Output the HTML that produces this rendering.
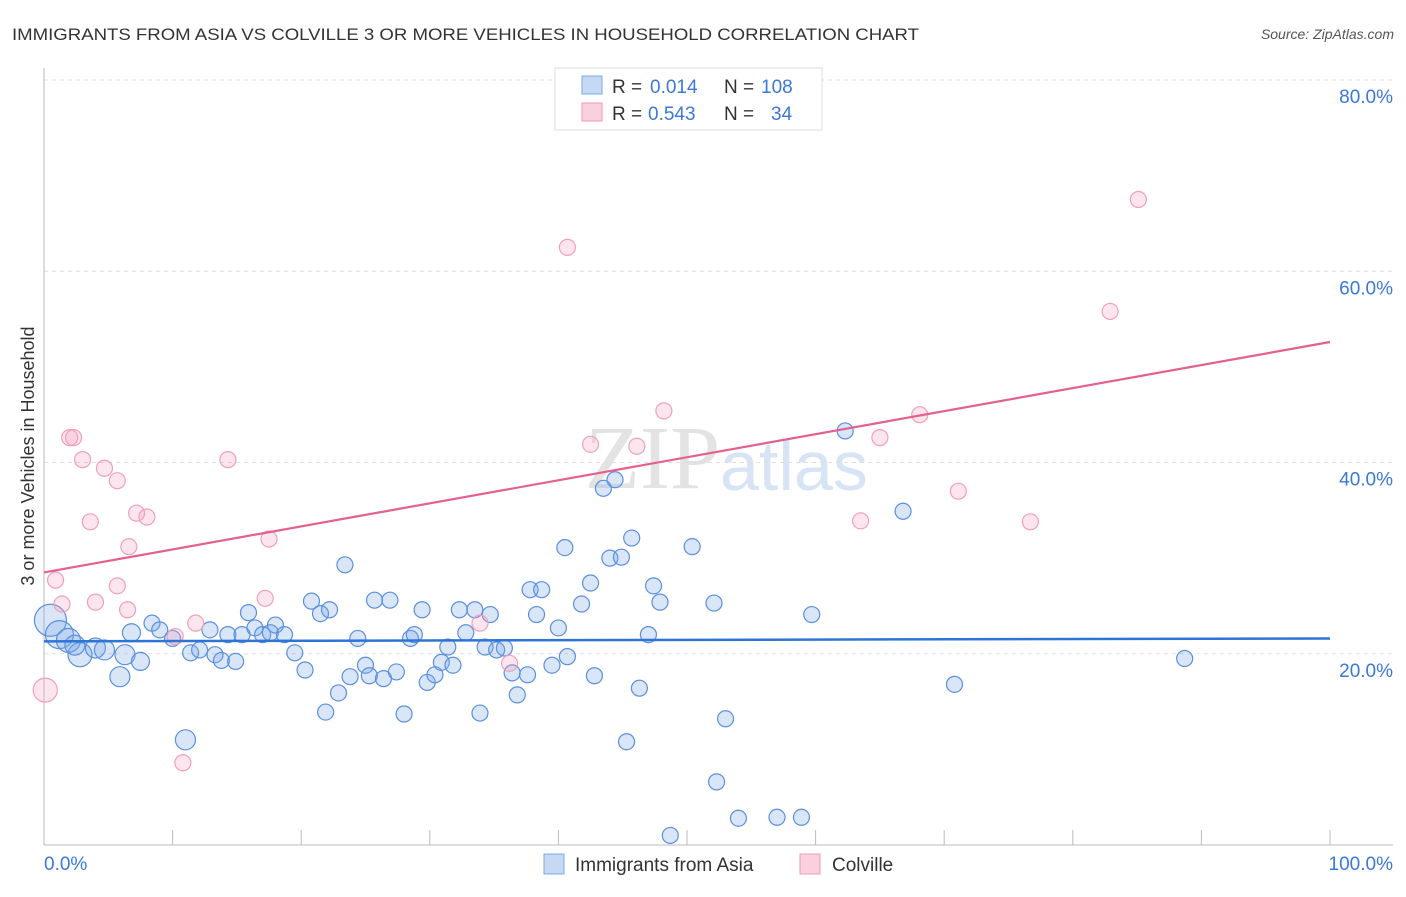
<!DOCTYPE html>
<html><head><meta charset="utf-8"><style>
body{margin:0;background:#fff;font-family:"Liberation Sans",sans-serif;}
</style></head><body>
<svg width="1406" height="892" xmlns="http://www.w3.org/2000/svg" style="font-family:'Liberation Sans',sans-serif">
<text x="12" y="40" font-size="17" fill="#333" textLength="907" lengthAdjust="spacingAndGlyphs">IMMIGRANTS FROM ASIA VS COLVILLE 3 OR MORE VEHICLES IN HOUSEHOLD CORRELATION CHART</text>
<text x="1394" y="39" font-size="14" fill="#555" text-anchor="end" font-style="italic">Source: ZipAtlas.com</text>
<text x="720" y="488" font-size="90" fill="#e3e3e3" text-anchor="end" font-family="Liberation Serif">ZIP</text>
<text x="720" y="490" font-size="70" fill="#d6e4f5">atlas</text>
<g id="grid"></g><g id="axes"></g><g id="pts"></g><g id="lines"></g>
<text transform="translate(34,456) rotate(-90)" font-size="18" fill="#333" text-anchor="middle">3 or more Vehicles in Household</text>
<g>
<rect x="555" y="68" width="267" height="62" fill="#fff" stroke="#ddd"/>
<rect x="582" y="76" width="20" height="18" fill="#c5d9f5" stroke="#7aa7e6"/>
<rect x="582" y="103" width="20" height="18" fill="#fbd0de" stroke="#f09ab8"/>
<text x="612" y="93" font-size="19" fill="#333">R =</text>
<text x="650" y="93" font-size="19" fill="#3b78d8">0.014</text>
<text x="724" y="93" font-size="19" fill="#333">N =</text>
<text x="761" y="93" font-size="19" fill="#3b78d8">108</text>
<text x="612" y="120" font-size="19" fill="#333">R =</text>
<text x="648" y="120" font-size="19" fill="#3b78d8">0.543</text>
<text x="724" y="120" font-size="19" fill="#333">N =</text>
<text x="771" y="120" font-size="19" fill="#3b78d8">34</text>
</g>
<g>
<rect x="544" y="854" width="20" height="20" fill="#c5d9f5" stroke="#7aa7e6"/>
<text x="575" y="871" font-size="19" fill="#333">Immigrants from Asia</text>
<rect x="800" y="854" width="20" height="20" fill="#fbd0de" stroke="#f09ab8"/>
<text x="832" y="871" font-size="19" fill="#333">Colville</text>
</g>
</svg>
<script>
const yTicks=[20,40,60,80];
const xTickLabels=["0.0%","100.0%"];
const blueX=[0.5,1.2,1.9,2.8,2.4,4.0,4.7,5.9,6.3,7.5,6.8,8.4,9.0,10.0,11.0,11.4,12.1,12.9,13.3,13.8,14.9,14.3,15.4,15.9,16.4,17.0,17.6,18.0,18.7,19.5,20.3,20.8,21.5,22.2,23.4,21.9,22.9,23.8,24.4,25.0,25.3,25.7,26.4,26.9,27.4,28.0,28.5,28.8,29.4,29.8,30.4,30.9,31.4,31.8,32.3,32.8,33.5,33.9,34.3,34.7,35.2,35.8,36.4,36.8,37.6,37.8,38.3,38.7,39.5,40.0,40.5,40.7,41.8,42.5,42.8,43.5,44.0,44.4,44.9,45.3,45.7,46.3,47.0,47.4,47.9,48.7,50.4,52.1,52.3,53.0,54.0,57.0,58.9,59.7,62.3,66.8,70.8,88.7];
const blueY=[23.5,22.0,21.4,19.9,20.9,20.6,20.4,17.6,19.9,19.2,22.2,23.2,22.5,21.6,11.0,20.1,20.4,22.5,19.9,19.3,19.2,22.0,22.0,24.3,22.7,22.0,22.2,23.0,22.0,20.1,18.3,25.5,24.2,24.6,29.3,13.9,15.9,17.6,21.6,18.8,17.7,25.6,17.4,25.6,18.1,13.7,21.6,22.0,24.6,17.0,17.8,19.1,20.7,18.8,24.6,22.2,24.6,13.8,20.7,24.1,20.4,20.6,18.0,15.7,17.8,26.7,24.1,26.7,18.8,22.7,31.1,19.7,25.2,27.4,17.7,37.3,30.0,38.2,30.1,10.8,32.1,16.4,22.0,27.1,25.4,1.0,31.2,25.3,6.6,13.2,2.8,2.9,2.9,24.1,43.3,34.9,16.8,19.5];
const blueSize=[16,14,12,12,10,10,10,10,10,9,9,8,8,8,10];
const pinkX=[0.1,0.9,1.4,2.0,2.3,3.0,3.6,4.0,4.7,5.7,5.7,6.5,6.6,7.2,8.0,10.2,10.8,11.8,14.3,17.2,17.5,33.9,36.2,40.7,42.5,46.1,48.2,63.5,65.0,68.1,71.1,76.7,82.9,85.1];
const pinkY=[16.2,27.7,25.2,42.6,42.6,40.3,33.8,25.4,39.4,38.1,27.1,24.6,31.2,34.7,34.3,21.8,8.6,23.2,40.3,25.8,32.0,23.2,19.0,62.5,41.9,41.7,45.4,33.9,42.6,45.0,37.0,33.8,55.8,67.5];
const blueTrend=[21.3,21.6];
const pinkTrend=[28.5,52.6];
const NS="http://www.w3.org/2000/svg";
const X0=44,X1=1330,Y0=845,Ytop=80;
function sx(v){return X0+(X1-X0)*v/100;}
function sy(v){return Y0-(Y0-Ytop)*v/80;}
function mk(parent,tag,attrs){const e=document.createElementNS(NS,tag);for(const k in attrs)e.setAttribute(k,attrs[k]);document.getElementById(parent).appendChild(e);return e;}
yTicks.forEach(t=>{
 const l=mk('grid','line',{x1:X0,x2:1393,y1:sy(t),y2:sy(t),stroke:'#ddd','stroke-dasharray':'4,4'});
 
 
 const tx=mk('grid','text',{x:1393,y:sy(t)+23,'font-size':19,fill:'#3b78d8','text-anchor':'end'});
 tx.textContent=t.toFixed(1)+'%';
 
 
});
const ax=mk('axes','line',{x1:X0,x2:X0,y1:68,y2:Y0,stroke:'#bbb'});


const bx=mk('axes','line',{x1:X0,x2:1393,y1:Y0,y2:Y0,stroke:'#bbb'});


for(let i=1;i<=10;i++){
 const t=mk('axes','line',{x1:sx(i*10),x2:sx(i*10),y1:830,y2:Y0,stroke:'#bbb'});
 
 
}
const xl0=mk('axes','text',{x:44,y:870,'font-size':19,fill:'#3b78d8'});xl0.textContent=xTickLabels[0];


const xl1=mk('axes','text',{x:1393,y:870,'font-size':19,fill:'#3b78d8','text-anchor':'end'});xl1.textContent=xTickLabels[1];


blueX.forEach((v,i)=>{
 const c=mk('pts','circle',{cx:sx(v),cy:sy(blueY[i]),r:blueSize[i]||8,fill:'rgba(120,166,230,0.28)',stroke:'#5b8fe0','stroke-width':1.2});
 
 
});
pinkX.forEach((v,i)=>{
 const c=mk('pts','circle',{cx:sx(v),cy:sy(pinkY[i]),r:i==0?12:8,fill:'rgba(245,160,190,0.28)',stroke:'#f0a0bb','stroke-width':1.2});
 
 
});
const bl=mk('lines','line',{x1:sx(0),x2:sx(100),y1:sy(blueTrend[0]),y2:sy(blueTrend[1]),stroke:'#2e74d6','stroke-width':2.5});


const pl=mk('lines','line',{x1:sx(0),x2:sx(100),y1:sy(pinkTrend[0]),y2:sy(pinkTrend[1]),stroke:'#e4608e','stroke-width':2.2});


</script>
</body></html>
